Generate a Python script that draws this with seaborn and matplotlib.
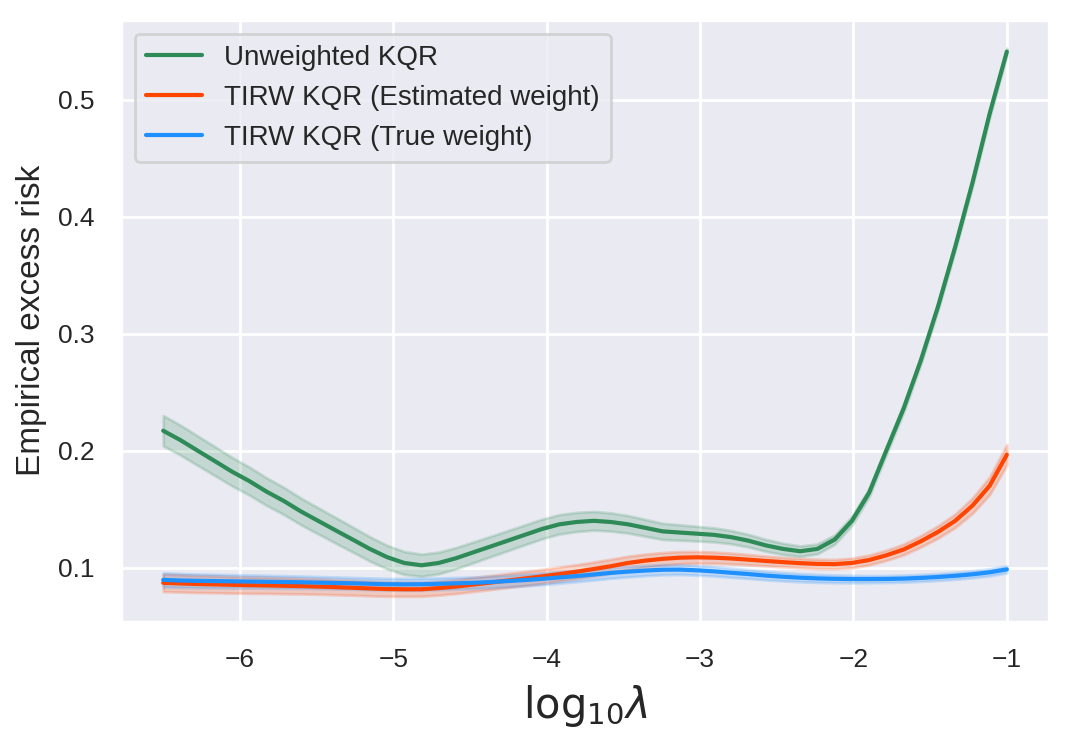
import numpy as np
import pandas as pd
import matplotlib
matplotlib.use("Agg")
import matplotlib.pyplot as plt
import seaborn as sns

# log10(lambda) grid, 50 points from -6.5 to -1
log_lambda = [-6.500, -6.388, -6.276, -6.163, -6.051, -5.939, -5.827, -5.714, -5.602, -5.490,
              -5.378, -5.265, -5.153, -5.041, -4.929, -4.816, -4.704, -4.592, -4.480, -4.367,
              -4.255, -4.143, -4.031, -3.918, -3.806, -3.694, -3.582, -3.469, -3.357, -3.245,
              -3.133, -3.020, -2.908, -2.796, -2.684, -2.571, -2.459, -2.347, -2.235, -2.122,
              -2.010, -1.898, -1.786, -1.673, -1.561, -1.449, -1.337, -1.224, -1.112, -1.000]

unweighted = [0.217, 0.209, 0.200, 0.191, 0.182, 0.174, 0.165, 0.157, 0.148, 0.140,
              0.132, 0.124, 0.116, 0.109, 0.104, 0.102, 0.104, 0.108, 0.113, 0.118,
              0.123, 0.128, 0.133, 0.137, 0.139, 0.140, 0.139, 0.137, 0.134, 0.131,
              0.130, 0.129, 0.128, 0.126, 0.123, 0.119, 0.116, 0.114, 0.116, 0.124,
              0.140, 0.164, 0.200, 0.236, 0.277, 0.323, 0.374, 0.429, 0.488, 0.541]
unweighted_err = [0.013, 0.0128, 0.0126, 0.0124, 0.0122, 0.012, 0.0118, 0.0116, 0.0114, 0.0112,
                  0.011, 0.0107, 0.0104, 0.0101, 0.0098, 0.0095, 0.0093, 0.0091, 0.0089, 0.0087,
                  0.0086, 0.0085, 0.0084, 0.0083, 0.0082, 0.008, 0.0078, 0.0075, 0.0072, 0.0069,
                  0.0066, 0.0063, 0.006, 0.0057, 0.0054, 0.0051, 0.0048, 0.0045, 0.0042, 0.004,
                  0.0038, 0.0036, 0.0034, 0.0033, 0.0032, 0.0031, 0.003, 0.003, 0.003, 0.003]

est_weight = [0.0870, 0.0865, 0.0860, 0.0857, 0.0853, 0.0850, 0.0848, 0.0845, 0.0842, 0.0838,
              0.0833, 0.0828, 0.0822, 0.0817, 0.0815, 0.0815, 0.0825, 0.0838, 0.0855, 0.0872,
              0.0890, 0.0907, 0.0925, 0.0945, 0.0965, 0.0988, 0.1012, 0.1040, 0.1060, 0.1075,
              0.1085, 0.1088, 0.1085, 0.1078, 0.1068, 0.1057, 0.1047, 0.1038, 0.1032, 0.1030,
              0.1040, 0.1065, 0.1105, 0.1155, 0.1225, 0.1305, 0.1400, 0.1530, 0.1700, 0.1965]
est_weight_err = [0.0075, 0.0074, 0.0073, 0.0072, 0.0071, 0.007, 0.0069, 0.0068, 0.0067, 0.0066,
                  0.0065, 0.0064, 0.0063, 0.0062, 0.0061, 0.006, 0.006, 0.006, 0.006, 0.006,
                  0.006, 0.006, 0.006, 0.006, 0.006, 0.006, 0.006, 0.0058, 0.0056, 0.0054,
                  0.0052, 0.005, 0.0048, 0.0046, 0.0044, 0.0042, 0.004, 0.004, 0.004, 0.004,
                  0.0041, 0.0042, 0.0044, 0.0046, 0.0049, 0.0053, 0.0058, 0.0066, 0.0076, 0.0088]

true_weight = [0.0895, 0.0890, 0.0887, 0.0885, 0.0883, 0.0881, 0.0879, 0.0877, 0.0875, 0.0872,
               0.0869, 0.0866, 0.0862, 0.0858, 0.0857, 0.0858, 0.0862, 0.0866, 0.0870, 0.0877,
               0.0885, 0.0894, 0.0904, 0.0916, 0.0928, 0.0941, 0.0955, 0.0966, 0.0975, 0.0982,
               0.0983, 0.0977, 0.0968, 0.0956, 0.0945, 0.0932, 0.0922, 0.0914, 0.0908, 0.0904,
               0.0902, 0.0902, 0.0903, 0.0906, 0.0912, 0.0920, 0.0930, 0.0943, 0.0960, 0.0985]
true_weight_err = [0.006, 0.006, 0.0059, 0.0058, 0.0057, 0.0056, 0.0055, 0.0054, 0.0053, 0.0052,
                   0.0051, 0.005, 0.005, 0.005, 0.005, 0.005, 0.005, 0.005, 0.005, 0.005,
                   0.005, 0.005, 0.005, 0.0049, 0.0048, 0.0047, 0.0046, 0.0045, 0.0044, 0.0043,
                   0.0042, 0.0041, 0.004, 0.0039, 0.0038, 0.0037, 0.0036, 0.0035, 0.0034, 0.0033,
                   0.0032, 0.0031, 0.003, 0.003, 0.003, 0.003, 0.003, 0.003, 0.003, 0.003]

series = [
    ("Unweighted KQR", unweighted, unweighted_err, "seagreen"),
    ("TIRW KQR (Estimated weight)", est_weight, est_weight_err, "orangered"),
    ("TIRW KQR (True weight)", true_weight, true_weight_err, "dodgerblue"),
]

sns.set_theme(style="darkgrid")
plt.rcParams['font.family'] = ['Liberation Sans', 'DejaVu Sans']

fig = plt.figure(figsize=(5.35, 3.72), dpi=200)
ax = fig.add_axes([0.1131, 0.1644, 0.8673, 0.8087])

for name, vals, err, col in series:
    df = pd.DataFrame({"x": log_lambda, "y": vals})
    sns.lineplot(data=df, x="x", y="y", color=col, linewidth=1.5, label=name, ax=ax)
    lo = np.array(vals) - np.array(err)
    hi = np.array(vals) + np.array(err)
    ax.fill_between(log_lambda, lo, hi, color=col, alpha=0.2)

ax.set_xlim(-6.775, -0.725)
ax.set_ylim(0.0538, 0.568)
ax.set_xlabel(r"$\mathrm{log}_{10}\lambda$", fontsize=15)
ax.set_ylabel("Empirical excess risk", fontsize=12)
ax.tick_params(labelsize=9.5)
ax.legend(loc="upper left", fontsize=10)

plt.savefig("out.png", dpi=200)
